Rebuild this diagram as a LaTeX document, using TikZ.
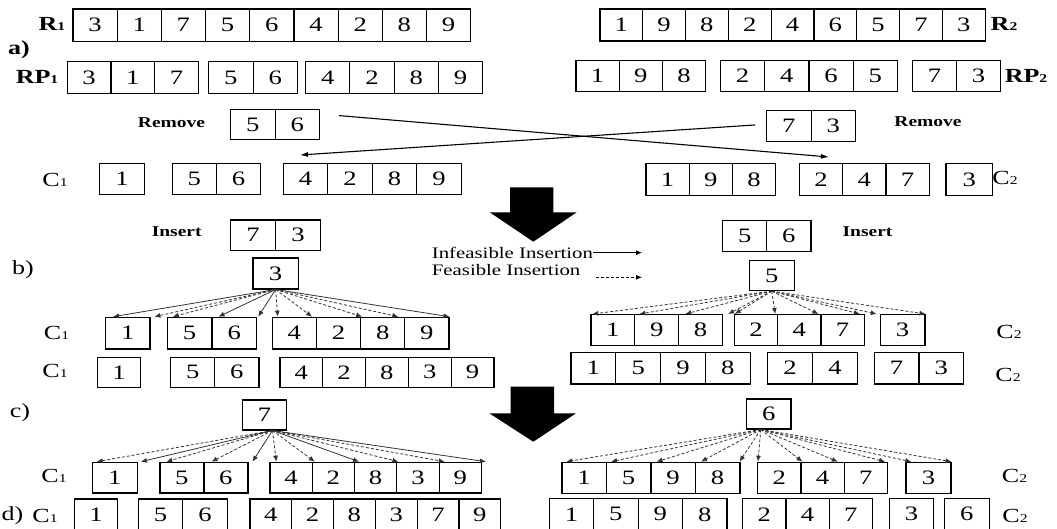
\documentclass[tikz,border=0pt]{standalone}
\usepackage{fontspec}
\setmainfont{Liberation Serif}[FakeStretch=1.3]
\usetikzlibrary{arrows.meta}
\tikzset{
  cell/.style={draw, line width=1.2pt, inner sep=0pt, anchor=north west, font=\fontsize{20.5}{20.5}\selectfont},
  lbl/.style={inner sep=0pt, font=\fontsize{20}{20}\selectfont},
  lblb/.style={inner sep=0pt, font=\fontsize{20}{20}\selectfont\bfseries},
  act/.style={inner sep=0pt, font=\fontsize{15}{15}\selectfont\bfseries},
  leg/.style={inner sep=0pt, anchor=west, font=\fontsize{16}{16}\selectfont},
  inf/.style={-{Latex[length=6pt,width=5pt]}, line width=0.8pt, black!80},
  fea/.style={inf, dash pattern=on 3pt off 2pt},
  legline/.style={-{Latex[length=6pt,width=5pt]}, line width=0.8pt},
  cross/.style={-{Latex[length=8pt,width=5pt]}, line width=1.1pt},
  bigarrow/.style={fill=black}
}
\newcommand\sub[1]{{\fontsize{12}{12}\selectfont #1}}
\newcommand\cellgroup[6]{%
  \foreach \v [count=\i] in {#6}{%
    \node[cell, minimum width=#4pt, minimum height=#5pt] (#1-\i) at ({#2+(\i-1)*#4},#3) {\v};
  }}
\begin{document}
\begin{tikzpicture}[x=1pt,y=-1pt]
\useasboundingbox (0,0) rectangle (1057,528);
% ---- a) ----
\cellgroup{ra}{72.3}{8.3}{44.2}{32.4}{3,1,7,5,6,4,2,8,9}
\cellgroup{rb}{599.3}{8.3}{42.8}{32}{1,9,8,2,4,6,5,7,3}
\node[lblb] (l-r1) at (52,24) {R\sub1};
\node[lblb] (l-r2) at (1004,24) {R\sub2};
\node[lblb] (l-a) at (19,50) {a)};
\cellgroup{pa1}{66.7}{61}{43.7}{31.7}{3,1,7}
\cellgroup{pa2}{208}{61}{44.5}{31.7}{5,6}
\cellgroup{pa3}{305}{61}{44.25}{31.7}{4,2,8,9}
\cellgroup{pb1}{575.3}{60}{43.3}{30.7}{1,9,8}
\cellgroup{pb2}{719.7}{60}{44.3}{30.7}{2,4,6,5}
\cellgroup{pb3}{912}{60}{44}{30.7}{7,3}
\node[lblb] (l-rp1) at (37,77) {RP\sub1};
\node[lblb] (l-rp2) at (1026,76) {RP\sub2};
\node[act] (l-rm1) at (171.5,123) {Remove};
\node[act] (l-rm2) at (928,122) {Remove};
\cellgroup{ma}{230}{109}{44.5}{30}{5,6}
\cellgroup{mb}{766}{110}{44.5}{30.7}{7,3}
\cellgroup{ca1}{99}{163}{45}{31}{1}
\cellgroup{ca2}{171.7}{163}{44.2}{31}{5,6}
\cellgroup{ca3}{282.7}{163}{44.5}{31}{4,2,8,9}
\cellgroup{da1}{645.3}{163}{43.3}{32}{1,9,8}
\cellgroup{da2}{798.7}{163}{43.3}{32}{2,4,7}
\cellgroup{da3}{945.3}{163}{46.7}{32}{3}
\node[lbl] (l-c1a) at (55,180) {C\sub1};
\node[lbl] (l-c2a) at (1005,178) {C\sub2};
\coordinate (xa) at (829,157);
\coordinate (xb) at (300,155);
\draw[cross] ([shift={(19,-9)}]ma-2.east) -- (xa);
\draw[cross] ([shift={(-11,-1)}]mb-1.west) -- (xb);
% big arrows
\fill[bigarrow] (510,187.3) -- (553.3,187.3) -- (553.3,212.3) -- (576.7,212.3) -- (533.3,241.7) -- (489.7,212.3) -- (510,212.3) -- cycle;
\fill[bigarrow] (510.7,386.7) -- (554,386.7) -- (554,413.3) -- (576,413.3) -- (533.3,441.7) -- (489.3,413.3) -- (510.7,413.3) -- cycle;
% ---- b) ----
\node[act] (l-in1) at (176.7,231.7) {Insert};
\node[act] (l-in2) at (867.5,231.7) {Insert};
\cellgroup{ia}{230}{219.3}{45}{30.7}{7,3}
\cellgroup{ib}{722}{220}{44.2}{30.7}{5,6}
\node[leg] (l-inf) at (431.7,252.7) {Infeasible Insertion};
\node[leg] (l-fea) at (431.7,270) {Feasible Insertion};
\coordinate (infend) at (642,252.7);
\coordinate (feaend) at (642,277.3);
\draw[legline] (l-inf.east) -- (infend);
\draw[legline, dash pattern=on 3pt off 2pt] (l-fea.east) ++(15,7.3) -- (feaend);
\node[lbl] (l-b) at (23,270) {b)};
\cellgroup{sa}{252.3}{257.3}{45.4}{31}{3}
\cellgroup{sb}{748.7}{260}{45}{30}{5}
\cellgroup{cb1}{105}{316.7}{44.3}{31.6}{1}
\cellgroup{cb2}{166.7}{316.7}{44.65}{31.6}{5,6}
\cellgroup{cb3}{271.7}{316.7}{44.15}{31.6}{4,2,8,9}
\cellgroup{db1}{590.3}{314}{43.9}{31}{1,9,8}
\cellgroup{db2}{733.7}{314}{43.3}{31}{2,4,7}
\cellgroup{db3}{879.7}{314}{44.6}{31}{3}
\node[lbl] (l-c1b) at (56.5,333) {C\sub1};
\node[lbl] (l-c2b) at (1009,331.7) {C\sub2};
% fan b left
\draw[inf] (sa-1.south) -- ([xshift=8pt]cb1-1.north west);
\draw[fea] (sa-1.south) -- ([xshift=4pt]cb1-1.north east);
\draw[fea] (sa-1.south) -- ([xshift=6pt]cb2-1.north west);
\draw[inf] (sa-1.south) -- ([xshift=6pt]cb2-1.north east);
\draw[inf] (sa-1.south) -- ([xshift=1pt]cb2-2.north east);
\draw[fea] (sa-1.south) -- ([xshift=6pt]cb3-1.north west);
\draw[fea] (sa-1.south) -- ([xshift=-5pt]cb3-1.north east);
\draw[fea] (sa-1.south) -- ([xshift=1pt]cb3-2.north east);
\draw[fea] (sa-1.south) -- ([xshift=-7pt]cb3-3.north east);
\draw[inf] (sa-1.south) -- (cb3-4.north east);
% fan b right
\draw[fea] (sb-1.south) -- ([xshift=2pt]db1-1.north west);
\draw[fea] (sb-1.south) -- ([xshift=4pt]db1-1.north east);
\draw[fea] (sb-1.south) -- ([xshift=6pt]db1-2.north east);
\draw[fea] (sb-1.south) -- ([xshift=5pt]db1-3.north east);
\draw[fea] (sb-1.south) -- ([xshift=1pt]db2-1.north west);
\draw[fea] (sb-1.south) -- ([xshift=-3pt]db2-1.north east);
\draw[fea] (sb-1.south) -- ([xshift=-3pt]db2-2.north east);
\draw[fea] (sb-1.south) -- ([xshift=-5pt]db2-3.north east);
\draw[fea] (sb-1.south) -- ([xshift=-3pt]db3-1.north west);
\draw[fea] (sb-1.south) -- (db3-1.north east);
% second C rows
\cellgroup{ce1}{96.7}{356.7}{43.3}{30}{1}
\cellgroup{ce2}{170}{356.7}{44.15}{30}{5,6}
\cellgroup{ce3}{279.3}{356.7}{42.8}{30}{4,2,8,3,9}
\cellgroup{de1}{570.3}{351.7}{44.85}{31.6}{1,5,9,8}
\cellgroup{de2}{767}{351.7}{45}{31.6}{2,4}
\cellgroup{de3}{873.7}{351.7}{44.65}{31.6}{7,3}
\node[lbl] (l-c1e) at (55,370.7) {C\sub1};
\node[lbl] (l-c2e) at (1008,375) {C\sub2};
% ---- c) ----
\node[lbl] (l-c) at (20,413) {c)};
\cellgroup{sc}{241.7}{399.3}{44.3}{30}{7}
\cellgroup{sd}{746}{398.3}{44.3}{30}{6}
\cellgroup{cc1}{91.7}{461.7}{45}{30.6}{1}
\cellgroup{cc2}{159.3}{461.7}{44}{30.6}{5,6}
\cellgroup{cc3}{269.3}{461.7}{42.3}{30.6}{4,2,8,3,9}
\cellgroup{dc1}{561.3}{461.7}{44.5}{31}{1,5,9,8}
\cellgroup{dc2}{757}{461.7}{43.3}{31}{2,4,7}
\cellgroup{dc3}{905.3}{461.7}{45}{31}{3}
\node[lbl] (l-c1c) at (54,476) {C\sub1};
\node[lbl] (l-c2c) at (1014.5,476) {C\sub2};
% fan c left
\draw[fea] ([xshift=8pt]sc-1.south) -- ([xshift=5pt]cc1-1.north west);
\draw[inf] ([xshift=8pt]sc-1.south) -- ([xshift=3pt]cc1-1.north east);
\draw[fea] ([xshift=8pt]sc-1.south) -- ([xshift=7pt]cc2-1.north west);
\draw[fea] ([xshift=8pt]sc-1.south) -- ([xshift=7pt]cc2-1.north east);
\draw[inf] ([xshift=8pt]sc-1.south) -- ([xshift=4pt]cc2-2.north east);
\draw[fea] ([xshift=8pt]sc-1.south) -- ([xshift=7pt]cc3-1.north west);
\draw[fea] ([xshift=8pt]sc-1.south) -- ([xshift=2pt]cc3-1.north east);
\draw[inf] ([xshift=8pt]sc-1.south) -- ([xshift=4pt]cc3-2.north east);
\draw[fea] ([xshift=8pt]sc-1.south) -- ([xshift=1pt]cc3-3.north east);
\draw[fea] ([xshift=8pt]sc-1.south) -- ([xshift=5pt]cc3-4.north east);
\draw[inf] ([xshift=8pt]sc-1.south) -- ([xshift=4pt]cc3-5.north east);
% fan c right
\draw[fea] ([xshift=-8pt]sd-1.south) -- ([xshift=5pt]dc1-1.north west);
\draw[fea] ([xshift=-8pt]sd-1.south) -- ([xshift=4pt]dc1-1.north east);
\draw[fea] ([xshift=-8pt]sd-1.south) -- ([xshift=5pt]dc1-2.north east);
\draw[fea] ([xshift=-8pt]sd-1.south) -- ([xshift=5pt]dc1-3.north east);
\draw[fea] ([xshift=-8pt]sd-1.south) -- ([xshift=-1pt]dc1-4.north east);
\draw[fea] ([xshift=-8pt]sd-1.south) -- ([xshift=1pt]dc2-1.north west);
\draw[fea] ([xshift=-8pt]sd-1.south) -- ([xshift=1pt]dc2-1.north east);
\draw[fea] ([xshift=-8pt]sd-1.south) -- ([xshift=-7pt]dc2-2.north east);
\draw[fea] ([xshift=-8pt]sd-1.south) -- ([xshift=-3pt]dc2-3.north east);
\draw[fea] ([xshift=-8pt]sd-1.south) -- ([xshift=6pt]dc3-1.north west);
\draw[fea] ([xshift=-8pt]sd-1.south) -- (dc3-1.north east);
% ---- d) ----
\node[lbl] (l-d) at (12.5,516) {d)};
\node[lbl] (l-c1d) at (45,516) {C\sub1};
\node[lbl] (l-c2d) at (1015,516) {C\sub2};
\cellgroup{cd1}{74}{498.3}{42.7}{32}{1}
\cellgroup{cd2}{137.7}{498.3}{44.5}{32}{5,6}
\cellgroup{cd3}{249.3}{498.3}{41.8}{32}{4,2,8,3,7,9}
\cellgroup{dd1}{548.7}{497.7}{44.4}{32}{1,5,9,8}
\cellgroup{dd2}{742}{497.7}{43.3}{32}{2,4,7}
\cellgroup{dd3}{888.7}{497.7}{44.3}{32}{3}
\cellgroup{dd4}{943.7}{497.7}{45}{32}{6}
\end{tikzpicture}
\end{document}
